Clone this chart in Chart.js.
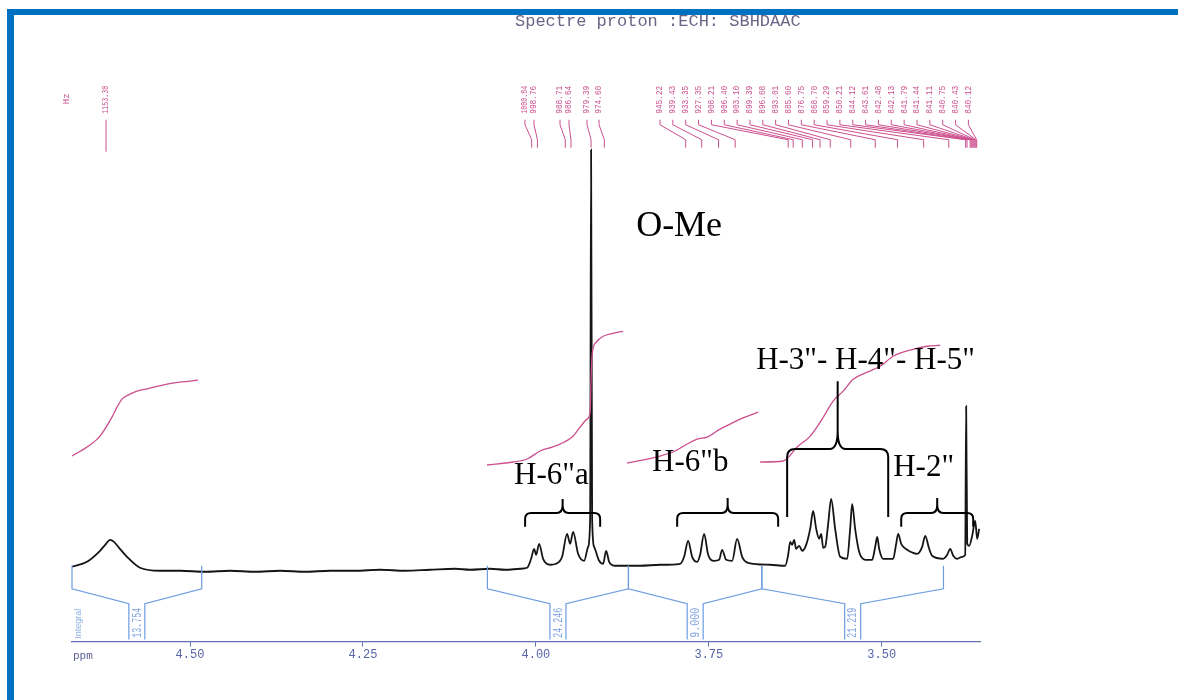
<!DOCTYPE html>
<html><head><meta charset="utf-8">
<script src="https://cdn.jsdelivr.net/npm/chart.js@4.4.1/dist/chart.umd.min.js"></script>
<style>
html,body{margin:0;padding:0;background:#fff;width:1178px;height:700px;overflow:hidden;}
#wrap{position:relative;width:1178px;height:700px;}
canvas{position:absolute;left:0;top:0;}
.bt{position:absolute;left:7px;top:9px;width:1171px;height:6px;background:#0070C0;}
.bl{position:absolute;left:7px;top:9px;width:7px;height:691px;background:#0070C0;}
</style></head><body>
<div id="wrap"><canvas id="c" width="1178" height="700"></canvas><div class="bt"></div><div class="bl"></div></div>
<script>
// ---------------- DATA ----------------
const titleText = 'Spectre proton :ECH: SBHDAAC';
const tickValues = [4.50, 4.25, 4.00, 3.75, 3.50];
const spectrometerMHz = 249.83;

// 1H trace (ppm, relative intensity)
const tracePpm = [4.6706,4.6489,4.6301,4.6214,4.6157,4.6099,4.6026,4.5911,4.5723,4.5434,4.5144,4.4783,4.4421,4.4060,4.3698,4.3337,4.2975,4.2614,4.2253,4.1891,4.1530,4.1168,4.0951,4.0662,4.0445,4.0228,4.0127,4.0069,4.0026,3.9997,3.9953,3.9896,3.9795,3.9708,3.9621,3.9549,3.9505,3.9462,3.9390,3.9303,3.9245,3.9216,3.9202,3.9187,3.9158,3.9086,3.9028,3.8985,3.8941,3.8855,3.8493,3.8204,3.7915,3.7857,3.7799,3.7741,3.7669,3.7626,3.7568,3.7510,3.7423,3.7351,3.7308,3.7250,3.7163,3.7091,3.7018,3.6932,3.6613,3.6396,3.6353,3.6324,3.6295,3.6267,3.6238,3.6194,3.6150,3.6093,3.6035,3.5992,3.5948,3.5905,3.5876,3.5847,3.5818,3.5775,3.5732,3.5674,3.5601,3.5500,3.5457,3.5428,3.5385,3.5327,3.5240,3.5139,3.5095,3.5066,3.5038,3.4980,3.4835,3.4792,3.4763,3.4719,3.4633,3.4488,3.4416,3.4372,3.4315,3.4271,3.4112,3.4054,3.4011,3.3967,3.3910,3.3837,3.3794,3.3780,3.3765,3.3736,3.3693,3.3649,3.3621,3.3592];
const traceIntensity = [3,8,19,26,30,28,22,13,2,-1,-1,-2,-1,-2,-1,-2,-1,-1,0,-1,0,1,0,1,0,1,2,11,21,15,26,11,5,6,13,36,26,38,16,9,23,51,421,51,23,9,6,19,8,4,4,5,6,13,29,13,8,15,36,15,9,10,20,10,9,31,13,7,5,4,15,28,25,30,21,24,19,25,41,59,41,31,36,22,23,46,71,41,13,11,41,66,41,18,10,10,23,33,21,11,11,26,36,26,20,16,23,34,21,14,11,15,21,14,11,13,15,164,26,24,34,49,31,41];

// integral curves
const integral1Ppm = [4.6706,4.6446,4.6301,4.6128,4.6055,4.5983,4.5896,4.5766,4.5578,4.5332,4.5144,4.4884];
const integral1Value = [114,125,134,153,163,171,175,179,182,186,188,190];
const integral2Ppm = [4.0706,4.0329,4.0127,3.9939,3.9765,3.9650,3.9476,3.9361,3.9260,3.9216,3.9202,3.9187,3.9129,3.9028,3.8884,3.8739];
const integral2Value = [105,108,111,119,123,126,133,143,151,158,191,216,228,234,237,239];
const integral3Ppm = [3.8681,3.8204,3.7987,3.7814,3.7669,3.7525,3.7337,3.7192,3.7047,3.6787];
const integral3Value = [107,114,119,126,131,133,141,146,151,158];
const integral4Ppm = [3.6758,3.6426,3.6223,3.6035,3.5862,3.5703,3.5558,3.5413,3.5211,3.5023,3.4835,3.4546,3.4344,3.4156];
const integral4Value = [108,109,123,134,151,169,179,191,198,204,214,221,224,225];

// integral regions
const integralFrom = [4.6706, 4.0701, 3.8662, 3.6733];
const integralTo = [4.4831, 3.8662, 3.6733, 3.4108];
const integralValues = [13.754, 24.246, 9.000, 21.219];

// peak picking (Hz)
const peakHz = [1153.30,1000.84,998.76,988.71,986.64,979.39,974.60,945.22,939.43,933.35,927.35,908.21,906.40,903.10,899.39,896.68,893.01,885.60,876.75,868.70,859.29,850.21,844.12,843.61,842.48,842.13,841.79,841.44,841.11,840.75,840.43,840.12];

// assignments
const assignText = ['O-Me', 'H-3"- H-4"- H-5"', 'H-6"a', 'H-6"b', 'H-2"'];
const assignPpm = [3.8551, 3.6816, 4.0315, 3.8320, 3.4835];
const assignHeight = [335, 201, 86, 99, 94];
const braceFrom = [4.0156, 3.7958, 3.4719, 3.6368];
const braceTo = [3.9071, 3.6498, 3.3678, 3.4907];

// ---------------- LAYOUT / STYLE ----------------
const braceEndH = [43, 43, 43, 53], braceBarH = [57, 57, 57, 121], braceTipH = [71, 72, 72, 189];
const assignFont = [36, 31, 31, 31, 31];
const labelXLeft = [106, 525, 534, 560, 569, 587, 599];
const labelXRightStart = 660, labelXRightStep = 12.85;
const PINK = '#cc4f8e', BLUE = '#6d9ce0', AXIS = '#6470b8';

const toPts = (xs, ys) => xs.map((x, i) => ({x, y: ys[i]}));

const overlay = {
  id: 'overlay',
  afterDatasetsDraw(chart) {
    const ctx = chart.ctx, xs = chart.scales.x, ys = chart.scales.y;
    const X = v => xs.getPixelForValue(v), Y = v => ys.getPixelForValue(v);
    ctx.save();
    // title
    ctx.fillStyle = '#6a6686';
    ctx.font = '17px "Liberation Mono", monospace';
    ctx.textBaseline = 'alphabetic'; ctx.textAlign = 'left';
    ctx.fillText(titleText, 515, 26);

    // peak labels
    ctx.fillStyle = PINK; ctx.strokeStyle = PINK; ctx.lineWidth = 1;
    ctx.font = '9px "Liberation Mono", monospace';
    peakHz.forEach((hz, i) => {
      const lx = i < labelXLeft.length ? labelXLeft[i] : labelXRightStart + (i - labelXLeft.length) * labelXRightStep;
      const px = i === 0 ? lx : X(hz / spectrometerMHz);
      ctx.save();
      ctx.translate(lx, Y(457));
      ctx.rotate(-Math.PI / 2);
      ctx.textAlign = 'left'; ctx.textBaseline = 'middle';
      ctx.fillText(hz.toFixed(2), 0, 0, 28);
      ctx.restore();
      ctx.beginPath();
      ctx.moveTo(lx, Y(451)); ctx.lineTo(lx, Y(446));
      ctx.lineTo(px, Y(431)); ctx.lineTo(px, Y(i === 0 ? 419 : 423));
      ctx.stroke();
    });
    ctx.save();
    ctx.translate(67, Y(472)); ctx.rotate(-Math.PI / 2);
    ctx.textAlign = 'center'; ctx.textBaseline = 'middle';
    ctx.fillText('Hz', 0, 0);
    ctx.restore();

    // integral brackets
    ctx.strokeStyle = BLUE; ctx.lineWidth = 1.2;
    integralFrom.forEach((a, i) => {
      const xa = X(a), xb = X(integralTo[i]), xm = (xa + xb) / 2;
      ctx.beginPath();
      ctx.moveTo(xa, Y(4)); ctx.lineTo(xa, Y(-19)); ctx.lineTo(xm - 8, Y(-34)); ctx.lineTo(xm - 8, Y(-70));
      ctx.moveTo(xb, Y(4)); ctx.lineTo(xb, Y(-19)); ctx.lineTo(xm + 8, Y(-34)); ctx.lineTo(xm + 8, Y(-70));
      ctx.stroke();
      ctx.save();
      ctx.fillStyle = '#7fa2e2';
      ctx.font = '12px "Liberation Mono", monospace';
      ctx.translate(xm + 0.5, Y(-53)); ctx.rotate(-Math.PI / 2);
      ctx.textAlign = 'center'; ctx.textBaseline = 'middle';
      ctx.fillText(integralValues[i].toFixed(3), 0, 0, 30);
      ctx.restore();
    });
    ctx.save();
    ctx.fillStyle = '#8fb0e6';
    ctx.font = '9px "Liberation Sans", sans-serif';
    ctx.translate(chart.chartArea.left + 7, Y(-54)); ctx.rotate(-Math.PI / 2);
    ctx.textAlign = 'center'; ctx.textBaseline = 'middle';
    ctx.fillText('Integral', 0, 0, 31);
    ctx.restore();

    // ppm unit
    ctx.fillStyle = '#5a5f90';
    ctx.font = '11px "Liberation Mono", monospace';
    ctx.textAlign = 'left'; ctx.textBaseline = 'middle';
    ctx.fillText('ppm', chart.chartArea.left + 1, xs.top + 14);

    // braces
    ctx.strokeStyle = '#000'; ctx.lineWidth = 2;
    braceFrom.forEach((a, i) => {
      const x1 = X(a), x2 = X(braceTo[i]), xm = (x1 + x2) / 2;
      const yE = Y(braceEndH[i]), yB = Y(braceBarH[i]), yT = Y(braceTipH[i]);
      const r = i === 3 ? 8 : 6, rt = i === 3 ? 18 : 8;
      ctx.beginPath();
      ctx.moveTo(x1, yE); ctx.lineTo(x1, yB + r);
      ctx.quadraticCurveTo(x1, yB, x1 + r, yB);
      ctx.lineTo(xm - r, yB);
      ctx.quadraticCurveTo(xm, yB, xm, yB - rt);
      ctx.lineTo(xm, yT);
      ctx.moveTo(x2, yE); ctx.lineTo(x2, yB + r);
      ctx.quadraticCurveTo(x2, yB, x2 - r, yB);
      ctx.lineTo(xm + r, yB);
      ctx.quadraticCurveTo(xm, yB, xm, yB - rt);
      ctx.stroke();
    });

    // assignment text
    ctx.fillStyle = '#000';
    ctx.textAlign = 'left'; ctx.textBaseline = 'alphabetic';
    assignText.forEach((t, i) => {
      ctx.font = assignFont[i] + 'px "Liberation Serif", "Times New Roman", serif';
      ctx.fillText(t, X(assignPpm[i]), Y(assignHeight[i]));
    });
    ctx.restore();
  }
};

const lineDs = (data, color, width, extra) => Object.assign({
  data, borderColor: color, borderWidth: width, pointRadius: 0,
  fill: false, cubicInterpolationMode: 'monotone'
}, extra || {});

new Chart(document.getElementById('c'), {
  type: 'line',
  data: {
    datasets: [
      lineDs(toPts(integral1Ppm, integral1Value), PINK, 1.3),
      lineDs(toPts(integral2Ppm, integral2Value), PINK, 1.3),
      lineDs(toPts(integral3Ppm, integral3Value), PINK, 1.3),
      lineDs(toPts(integral4Ppm, integral4Value), PINK, 1.3),
      lineDs(toPts(tracePpm, traceIntensity), '#151515', 1.8)
    ]
  },
  options: {
    responsive: false, devicePixelRatio: 1, animation: false,
    layout: {padding: {left: 72, right: 198, top: 20, bottom: 37}},
    plugins: {legend: {display: false}, tooltip: {enabled: false}},
    scales: {
      x: {
        type: 'linear', reverse: true, min: 3.358, max: 4.6706,
        afterBuildTicks: s => { s.ticks = tickValues.map(v => ({value: v})); },
        ticks: {callback: v => Number(v).toFixed(2), color: '#5664a8',
          font: {family: 'Liberation Mono', size: 12}, padding: 1, maxRotation: 0, autoSkip: false},
        grid: {display: true, drawOnChartArea: false, drawTicks: true, tickLength: 5, color: AXIS},
        border: {display: true, color: AXIS, width: 1.2}
      },
      y: {type: 'linear', display: false, min: -72, max: 551}
    }
  },
  plugins: [overlay]
});
</script>
</body></html>
